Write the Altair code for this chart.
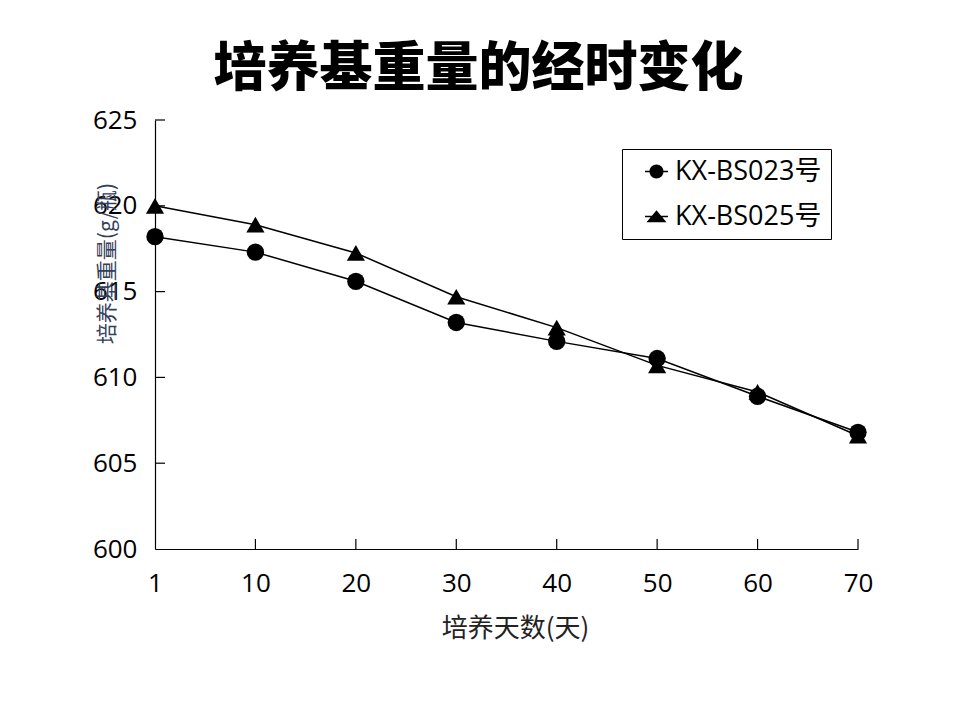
import altair as alt
import pandas as pd

days = [1, 10, 20, 30, 40, 50, 60, 70]
series_names = ["KX-BS023号", "KX-BS025号"]
bs023 = [618.2, 617.3, 615.6, 613.2, 612.1, 611.1, 608.9, 606.8]
bs025 = [620.0, 618.9, 617.25, 614.7, 612.9, 610.7, 609.15, 606.6]
y_ticks = [600, 605, 610, 615, 620, 625]

rows = []
for d, a, b in zip(days, bs023, bs025):
    rows.append({"day": d, "weight": a, "series": series_names[0]})
    rows.append({"day": d, "weight": b, "series": series_names[1]})
df = pd.DataFrame(rows)

FONT = "Noto Sans CJK SC"
LFONT = "Open Sans, Noto Sans CJK SC"
W, H = 703, 429

xscale = alt.Scale(type="point", padding=0, domain=days)
yscale = alt.Scale(domain=[600, 625], nice=False, zero=False)

x_axis = alt.Axis(title="培养天数(天)", labelAngle=0, ticks=False,
                  labelPadding=21, labelFontSize=26, labelColor="black",
                  labelFont=LFONT, domainColor="black", domainWidth=1.2,
                  titleFont=FONT, titleFontSize=26, titleFontWeight="normal",
                  titleColor="#222222", titleX=360, titleY=79,
                  titleBaseline="middle")
y_axis = alt.Axis(title="培养基重量(g/瓶)", values=y_ticks, ticks=False,
                  labelPadding=18, labelFontSize=26, labelColor="black",
                  labelFont=LFONT, domainColor="black", domainWidth=1.2,
                  grid=False, titleFont=FONT, titleFontSize=21,
                  titleFontWeight="normal", titleColor="#34405A",
                  titleAngle=-90, titleX=-48, titleY=143,
                  titleBaseline="middle", titleAlign="center")

x_enc = alt.X("day:O", scale=xscale, sort=days, axis=x_axis)
y_enc = alt.Y("weight:Q", scale=yscale, axis=y_axis)

lines = alt.Chart(df).mark_line(color="black", strokeWidth=1.5).encode(
    x=x_enc, y=y_enc, detail="series:N")

points = alt.Chart(df).mark_point(filled=True, color="black", opacity=1).encode(
    x=x_enc, y=y_enc,
    shape=alt.Shape("series:N", scale=alt.Scale(domain=series_names,
                                                range=["circle", "triangle-up"]),
                    legend=None),
    size=alt.Size("series:N", scale=alt.Scale(domain=series_names, range=[300, 330]),
                  legend=None),
)

bar = "M-1,-0.065H1V0.065H-1Z"
circ_path = bar + "M0.61,0A0.61,0.61,0,1,1,-0.61,0A0.61,0.61,0,1,1,0.61,0Z"
tri_path = bar + "M0,-0.55L0.87,0.5L-0.87,0.5Z"

legend_layer = alt.Chart(df).transform_filter("datum.weight > 99999").mark_point(
    filled=True, color="black", opacity=1
).encode(
    x=x_enc, y=y_enc,
    shape=alt.Shape("series:N", title=None,
                    scale=alt.Scale(domain=series_names, range=[circ_path, tri_path]),
                    legend=alt.Legend(orient="none", legendX=467, legendY=29,
                                      title=None, labelFont=LFONT, labelFontSize=27,
                                      labelColor="black", symbolSize=529,
                                      symbolFillColor="black", symbolOpacity=1,
                                      symbolStrokeWidth=0, symbolOffset=12,
                                      strokeColor="black", padding=9, rowPadding=17,
                                      labelOffset=5, fillColor="white")),
)

ytick_df = pd.DataFrame({"weight": y_ticks[1:]})
xtick_df = pd.DataFrame({"day": days[1:]})

yticks = alt.Chart(ytick_df).mark_rule(color="black", strokeWidth=1.2).encode(
    y=y_enc, x=alt.value(0), x2=alt.value(10))
xticks = alt.Chart(xtick_df).mark_rule(color="black", strokeWidth=1.2).encode(
    x=x_enc, y=alt.value(H - 10), y2=alt.value(H))

chart = alt.layer(lines, yticks, xticks, points, legend_layer).resolve_scale(
    shape="independent", size="independent"
).properties(
    width=W, height=H,
    title=alt.TitleParams("培养基重量的经时变化", font=FONT, fontSize=53,
                          fontWeight=900, color="black", anchor="middle",
                          frame="group", dx=-28, offset=10),
    autosize=alt.AutoSizeParams(type="none"),
    padding={"left": 147, "top": 112, "right": 94, "bottom": 163},
    background="white",
).configure_view(stroke=None)

chart.save("out.html", embed_options={"renderer": "svg", "actions": False})
